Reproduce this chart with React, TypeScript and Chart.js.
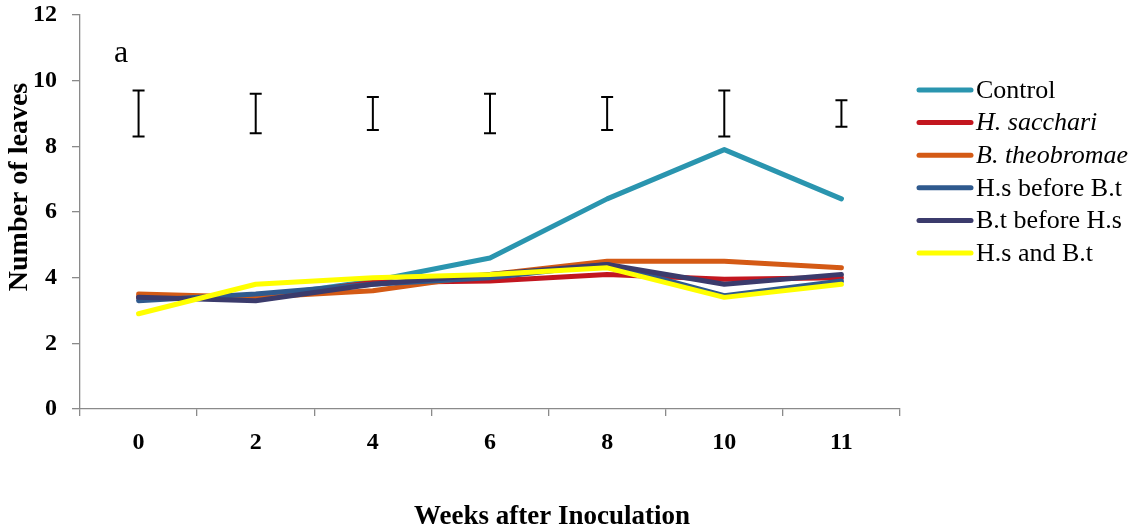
import React, { useEffect, useRef } from "react";
import { Chart, registerables } from "chart.js";

Chart.register(...registerables);

const categories = ["0", "2", "4", "6", "8", "10", "11"];
const seriesNames = ["Control", "H. sacchari", "B. theobromae", "H.s before B.t", "B.t before H.s", "H.s and B.t"];
const seriesItalic = [false, true, true, false, false, false];
const seriesColors = ["#2A95AF", "#C3161F", "#D45A15", "#2F5A8E", "#3B3B6C", "#FFFF00"];
const control = [3.4, 3.4, 3.9, 4.6, 6.4, 7.9, 6.4];
const hSacchari = [3.4, 3.4, 3.85, 3.9, 4.1, 3.95, 4.0];
const bTheobromae = [3.5, 3.4, 3.6, 4.1, 4.5, 4.5, 4.3];
const hsBeforeBt = [3.3, 3.5, 3.8, 4.0, 4.4, 3.45, 3.9];
const btBeforeHs = [3.4, 3.3, 3.8, 4.1, 4.4, 3.8, 4.1];
const hsAndBt = [2.9, 3.8, 4.0, 4.1, 4.3, 3.4, 3.8];
const errHigh = [9.7, 9.6, 9.5, 9.6, 9.5, 9.7, 9.4];
const errLow = [8.3, 8.4, 8.5, 8.4, 8.5, 8.3, 8.6];
const yTicks = [0, 2, 4, 6, 8, 10, 12];
const xTitle = "Weeks after Inoculation";
const yTitle = "Number of leaves";
const panelLabel = "a";

const allSeries = [control, hSacchari, bTheobromae, hsBeforeBt, btBeforeHs, hsAndBt];
const SERIF = "'Liberation Serif', 'Times New Roman', serif";

const extrasPlugin = {
  id: "extras",
  afterDatasetsDraw(chart: any) {
    const ctx = chart.ctx;
    const xs = chart.scales.x;
    const ys = chart.scales.y;
    ctx.save();
    ctx.strokeStyle = "#000";
    ctx.lineWidth = 2;
    errHigh.forEach((hi, i) => {
      const x = xs.getPixelForValue(i);
      const yh = ys.getPixelForValue(hi);
      const yl = ys.getPixelForValue(errLow[i]);
      ctx.beginPath();
      ctx.moveTo(x, yh);
      ctx.lineTo(x, yl);
      ctx.moveTo(x - 6, yh);
      ctx.lineTo(x + 6, yh);
      ctx.moveTo(x - 6, yl);
      ctx.lineTo(x + 6, yl);
      ctx.stroke();
    });
    ctx.restore();
  },
  afterDraw(chart: any) {
    const ctx = chart.ctx;
    ctx.save();
    ctx.fillStyle = "#000";
    ctx.save();
    ctx.translate(27, 187);
    ctx.rotate(-Math.PI / 2);
    ctx.font = `bold 28px ${SERIF}`;
    ctx.textAlign = "center";
    ctx.textBaseline = "alphabetic";
    ctx.fillText(yTitle, 0, 0);
    ctx.restore();
    ctx.font = `bold 27px ${SERIF}`;
    ctx.textAlign = "center";
    ctx.textBaseline = "alphabetic";
    ctx.fillText(xTitle, 552, 524);
    ctx.font = `32px ${SERIF}`;
    ctx.textAlign = "left";
    ctx.fillText(panelLabel, 114, 62);
    seriesNames.forEach((name, i) => {
      const y = 90 + i * 32.6;
      ctx.strokeStyle = seriesColors[i];
      ctx.lineWidth = 5;
      ctx.lineCap = "round";
      ctx.beginPath();
      ctx.moveTo(919, y);
      ctx.lineTo(971, y);
      ctx.stroke();
      ctx.font = `${seriesItalic[i] ? "italic " : ""}26px ${SERIF}`;
      ctx.textAlign = "left";
      ctx.textBaseline = "middle";
      ctx.fillStyle = "#000";
      ctx.fillText(name, 976, y + 1);
    });
    ctx.restore();
  },
};

export default function App() {
  const ref = useRef<HTMLCanvasElement | null>(null);
  useEffect(() => {
    document.body.style.margin = "0";
    const canvas = ref.current!;
    const chart = new Chart(canvas, {
      type: "line",
      data: {
        labels: categories,
        datasets: allSeries.map((d, i) => ({
          label: seriesNames[i],
          data: d,
          borderColor: seriesColors[i],
          backgroundColor: seriesColors[i],
          borderWidth: 5,
          pointRadius: 0,
          tension: 0,
          fill: false,
          borderJoinStyle: "round" as const,
          borderCapStyle: "round" as const,
          order: allSeries.length - i,
        })),
      },
      options: {
        animation: false,
        responsive: false,
        maintainAspectRatio: false,
        events: [],
        layout: { padding: { left: 0, top: 15, right: 241, bottom: 0 } },
        plugins: {
          legend: { display: false },
          tooltip: { enabled: false },
          title: { display: false },
        },
        scales: {
          x: {
            type: "category",
            offset: true,
            grid: { offset: true, drawOnChartArea: false, tickLength: 7, color: "#8a8a8a", lineWidth: 1.3 },
            border: { color: "#8a8a8a", width: 1.3 },
            ticks: {
              color: "#000",
              font: { family: SERIF, size: 24, weight: "bold" },
              padding: 12,
              maxRotation: 0,
              autoSkip: false,
            },
            afterFit: (a: any) => {
              a.height = 120;
              a.paddingLeft = 0;
              a.paddingRight = 0;
            },
          },
          y: {
            min: 0,
            max: 12,
            afterBuildTicks: (a: any) => {
              a.ticks = yTicks.map((v) => ({ value: v }));
            },
            grid: { drawOnChartArea: false, tickLength: 8, color: "#8a8a8a", lineWidth: 1.3 },
            border: { color: "#8a8a8a", width: 1.3 },
            ticks: {
              color: "#000",
              font: { family: SERIF, size: 24, weight: "bold" },
              padding: 15,
            },
            afterFit: (a: any) => {
              a.width = 80;
              a.paddingTop = 0;
              a.paddingBottom = 0;
            },
          },
        },
      },
      plugins: [extrasPlugin],
    });
    return () => chart.destroy();
  }, []);
  return (
    <div style={{ width: 1141, height: 529, background: "#fff" }}>
      <canvas ref={ref} width={1141} height={529} style={{ display: "block" }} />
    </div>
  );
}
